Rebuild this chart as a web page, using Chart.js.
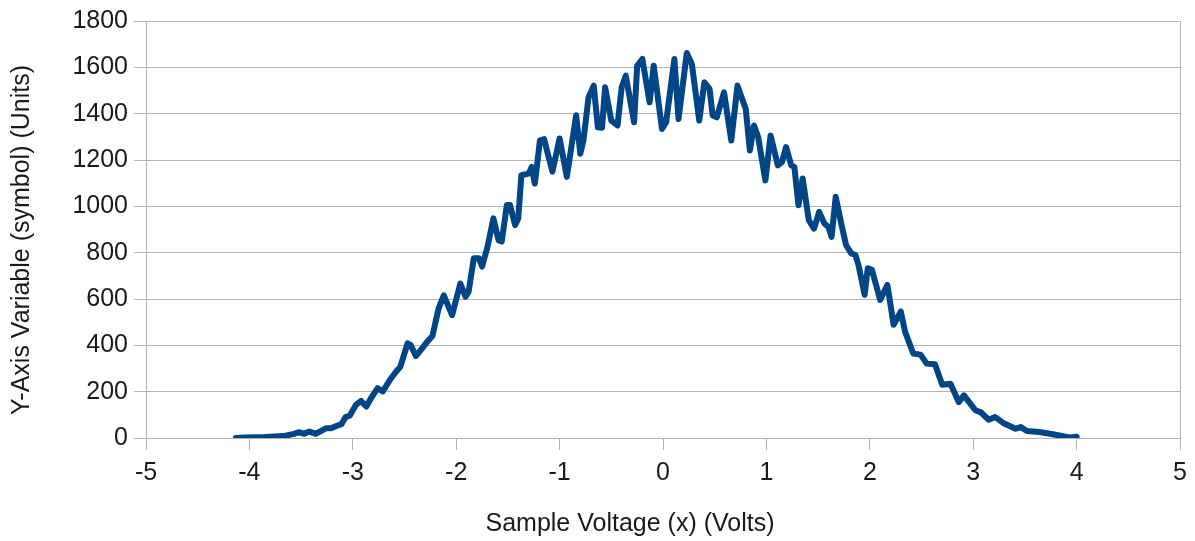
<!DOCTYPE html>
<html>
<head>
<meta charset="utf-8">
<script src="https://cdn.jsdelivr.net/npm/chart.js@4/dist/chart.umd.min.js"></script>
<style>
html,body{margin:0;padding:0;background:#fff;}
#wrap{width:1195px;height:541px;position:relative;}
</style>
</head>
<body>
<div id="wrap"><canvas id="c" width="1195" height="541"></canvas></div>
<script>
const xValues = [-4.13,-4.05,-3.95,-3.85,-3.75,-3.65,-3.57,-3.52,-3.47,-3.42,-3.36,-3.31,-3.26,-3.21,-3.16,-3.11,-3.07,-3.03,-2.97,-2.92,-2.87,-2.82,-2.76,-2.71,-2.67,-2.63,-2.58,-2.54,-2.47,-2.44,-2.39,-2.33,-2.28,-2.23,-2.17,-2.12,-2.04,-1.96,-1.91,-1.88,-1.83,-1.78,-1.75,-1.70,-1.64,-1.59,-1.56,-1.51,-1.48,-1.43,-1.40,-1.37,-1.30,-1.27,-1.24,-1.19,-1.15,-1.07,-1.00,-0.93,-0.84,-0.80,-0.77,-0.72,-0.67,-0.63,-0.59,-0.56,-0.50,-0.44,-0.40,-0.36,-0.28,-0.25,-0.20,-0.13,-0.09,-0.01,0.03,0.11,0.15,0.23,0.28,0.35,0.40,0.45,0.48,0.52,0.59,0.66,0.72,0.80,0.84,0.88,0.92,0.99,1.04,1.11,1.15,1.19,1.24,1.27,1.31,1.35,1.41,1.46,1.51,1.56,1.60,1.63,1.67,1.72,1.77,1.82,1.86,1.89,1.95,1.98,2.02,2.10,2.17,2.23,2.30,2.34,2.42,2.49,2.55,2.63,2.70,2.78,2.86,2.91,3.02,3.07,3.15,3.21,3.29,3.41,3.46,3.52,3.64,3.77,3.93,4.00];
const yValues = [0,2,3,4,7,10,18,25,18,28,18,30,42,42,52,60,90,96,143,160,136,175,215,201,230,258,287,308,409,401,354,387,416,440,560,616,530,667,610,632,776,776,740,820,948,853,848,1006,1006,919,948,1134,1141,1170,1098,1285,1290,1150,1293,1127,1393,1227,1284,1471,1521,1341,1339,1514,1370,1349,1514,1564,1363,1607,1636,1449,1607,1334,1363,1636,1377,1662,1612,1370,1535,1507,1392,1384,1492,1284,1521,1420,1241,1349,1299,1112,1306,1177,1191,1256,1177,1170,1005,1120,940,904,976,926,911,868,1041,933,833,797,790,747,618,733,726,596,661,489,546,460,365,360,321,318,230,234,155,184,120,112,79,91,65,40,47,30,26,16,2,5];
const xTicks = [-5,-4,-3,-2,-1,0,1,2,3,4,5];
const yTicks = [0,200,400,600,800,1000,1200,1400,1600,1800];
const xTitle = 'Sample Voltage (x) (Volts)';
const yTitle = 'Y-Axis Variable (symbol) (Units)';

const points = xValues.map((x, i) => ({x: x, y: yValues[i]}));
const gridColor = '#b3b3b3';
const textColor = '#1a1a1a';
const fontFam = '"Liberation Sans", Arial, sans-serif';

const axisTitles = {
  id: 'axisTitles',
  afterDraw(chart) {
    const ctx = chart.ctx;
    ctx.save();
    ctx.fillStyle = textColor;
    ctx.font = '25px ' + fontFam;
    ctx.textAlign = 'center';
    ctx.textBaseline = 'middle';
    ctx.fillText(xTitle, 630, 524);
    ctx.translate(22, 240);
    ctx.rotate(-Math.PI / 2);
    ctx.fillText(yTitle, 0, 0);
    ctx.restore();
  }
};

new Chart(document.getElementById('c'), {
  type: 'line',
  data: {
    datasets: [{
      data: points,
      borderColor: '#004586',
      borderWidth: 6,
      pointRadius: 0,
      tension: 0,
      fill: false,
      borderJoinStyle: 'round',
      borderCapStyle: 'round'
    }]
  },
  options: {
    responsive: false,
    animation: false,
    layout: {padding: {left: 0, right: 3, top: 20, bottom: 0}},
    plugins: {legend: {display: false}, tooltip: {enabled: false}},
    scales: {
      x: {
        type: 'linear',
        min: -5, max: 5,
        afterBuildTicks: s => { s.ticks = xTicks.map(v => ({value: v})); },
        afterFit: s => { s.height = 103; },
        grid: {
          drawOnChartArea: true, drawTicks: true, tickLength: 12,
          color: c => (c.tick && c.tick.value === 5) ? gridColor : 'rgba(0,0,0,0)',
          tickColor: gridColor
        },
        border: {color: gridColor},
        ticks: {color: textColor, font: {family: fontFam, size: 25}, padding: 8, maxRotation: 0,
                callback: v => String(v)},
        title: {display: false}
      },
      y: {
        type: 'linear',
        min: 0, max: 1800,
        afterBuildTicks: s => { s.ticks = yTicks.map(v => ({value: v})); },
        afterFit: s => { s.width = 146; },
        grid: {drawOnChartArea: true, drawTicks: true, tickLength: 12, color: gridColor},
        border: {color: gridColor},
        ticks: {color: textColor, font: {family: fontFam, size: 25}, padding: 6,
                callback: v => String(v)},
        title: {display: false}
      }
    }
  },
  plugins: [axisTitles]
});
</script>
</body>
</html>
